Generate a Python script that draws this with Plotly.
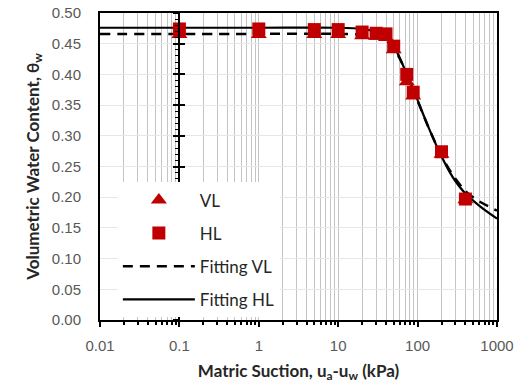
import plotly.graph_objects as go

# ---- data ----
suction_vl = [0.1, 1, 5, 10, 20, 30, 40, 50, 73, 88, 200, 400]
theta_vl = [0.465, 0.465, 0.465, 0.465, 0.463, 0.462, 0.460, 0.440, 0.388, 0.365, 0.270, 0.196]

suction_hl = [0.1, 1, 5, 10, 20, 30, 40, 50, 73, 88, 200, 400]
theta_hl = [0.474, 0.474, 0.473, 0.473, 0.469, 0.467, 0.466, 0.446, 0.400, 0.371, 0.274, 0.197]

fit_x_vl = [0.01, 1, 10, 20, 30, 40, 50, 60, 75, 90, 100, 135, 190, 256, 400, 550, 1000]
fit_y_vl = [0.466, 0.466, 0.466, 0.465, 0.462, 0.455, 0.443, 0.425, 0.397, 0.372, 0.357, 0.316, 0.273, 0.243, 0.210, 0.196, 0.178]

fit_x_hl = [0.01, 1, 10, 20, 30, 40, 50, 60, 75, 100, 136, 191, 256, 300, 400, 600, 1000]
fit_y_hl = [0.476, 0.476, 0.476, 0.474, 0.469, 0.460, 0.446, 0.426, 0.397, 0.358, 0.315, 0.272, 0.240, 0.226, 0.206, 0.186, 0.165]

x_tickvals = [0.01, 0.1, 1, 10, 100, 1000]
x_ticktext = ["0.01", "0.1", "1", "10", "100", "1000"]
y_tickvals = [0.00, 0.05, 0.10, 0.15, 0.20, 0.25, 0.30, 0.35, 0.40, 0.45, 0.50]

RED = "#C00000"
TICK_GRAY = "#595959"
TITLE_FONT = dict(family="Lato, Open Sans, sans-serif", size=17, color="#262626", weight="bold")

fig = go.Figure()

fig.add_trace(go.Scatter(
    x=fit_x_vl, y=fit_y_vl, mode="lines", name="Fitting VL",
    line=dict(color="black", width=2.5, dash="10px,7px", shape="spline", smoothing=0.8),
    legendrank=3, legendgroup="c"))
fig.add_trace(go.Scatter(
    x=fit_x_hl, y=fit_y_hl, mode="lines", name="Fitting HL",
    line=dict(color="black", width=2.2, shape="spline", smoothing=0.8),
    legendrank=4, legendgroup="d"))
fig.add_trace(go.Scatter(
    x=suction_vl, y=theta_vl, mode="markers", name="VL",
    marker=dict(symbol="triangle-up", size=14, color=RED),
    legendrank=1, legendgroup="a"))
fig.add_trace(go.Scatter(
    x=suction_hl, y=theta_hl, mode="markers", name="HL",
    marker=dict(symbol="square", size=13, color=RED),
    legendrank=2, legendgroup="b"))

# empty traces to create the crossing axis at x = 0.1
fig.add_trace(go.Scatter(x=[], y=[], yaxis="y2", showlegend=False, hoverinfo="skip"))
fig.add_trace(go.Scatter(x=[], y=[], yaxis="y3", showlegend=False, hoverinfo="skip"))

cross_common = dict(
    range=[0, 0.5], overlaying="y", anchor="free", position=0.2,
    showline=True, linecolor="black", linewidth=2,
    showgrid=False, zeroline=False, showticklabels=False,
    dtick=0.05, tick0=0, tickcolor="black", tickwidth=1.5, automargin=False,
)

fig.update_layout(
    width=522, height=385,
    margin=dict(l=100, r=25, t=13, b=65, autoexpand=False),
    paper_bgcolor="white", plot_bgcolor="white",
    showlegend=True,
    legend=dict(
        x=0.045, y=0.448, xanchor="left", yanchor="top",
        bgcolor="white", borderwidth=0,
        font=dict(family="Lato, Open Sans, sans-serif", size=17, color="#262626"),
        itemwidth=72, tracegroupgap=8,
    ),
    xaxis=dict(
        type="log", range=[-2, 3], automargin=False,
        tickvals=x_tickvals, ticktext=x_ticktext,
        tickfont=dict(family="Liberation Sans, Arial, sans-serif", size=15, color=TICK_GRAY),
        showline=True, linecolor="black", linewidth=2, mirror=True,
        ticks="outside", ticklen=5, tickwidth=1.5, tickcolor="black",
        showgrid=True, gridcolor="#C4C4C4", gridwidth=1,
        minor=dict(dtick="D1", showgrid=True, gridcolor="#C4C4C4", gridwidth=1,
                   ticks="outside", ticklen=3, tickcolor="black", tickwidth=1.5),
        zeroline=False,
        ticklabelstandoff=6,
        title=dict(text="Matric Suction, u<sub>a</sub>-u<sub>w</sub> (kPa)",
                   font=TITLE_FONT, standoff=12),
    ),
    yaxis=dict(
        range=[0, 0.5], tickvals=y_tickvals, tickformat=".2f", automargin=False,
        tickfont=dict(family="Liberation Sans, Arial, sans-serif", size=15, color=TICK_GRAY),
        showline=True, linecolor="black", linewidth=2, mirror=True,
        ticks="", showgrid=True, gridcolor="#E6E6E6", gridwidth=1,
        zeroline=False, ticklabelstandoff=14,
        title=dict(text="Volumetric Water Content, θ<sub>w</sub>",
                   font=TITLE_FONT, standoff=8),
    ),
    yaxis2=dict(cross_common, ticks="outside", ticklen=5,
                minor=dict(dtick=0.01, ticks="outside", ticklen=3, tickcolor="black", tickwidth=1)),
    yaxis3=dict(cross_common, ticks="inside", ticklen=5),
)

fig.write_html("out.html")
